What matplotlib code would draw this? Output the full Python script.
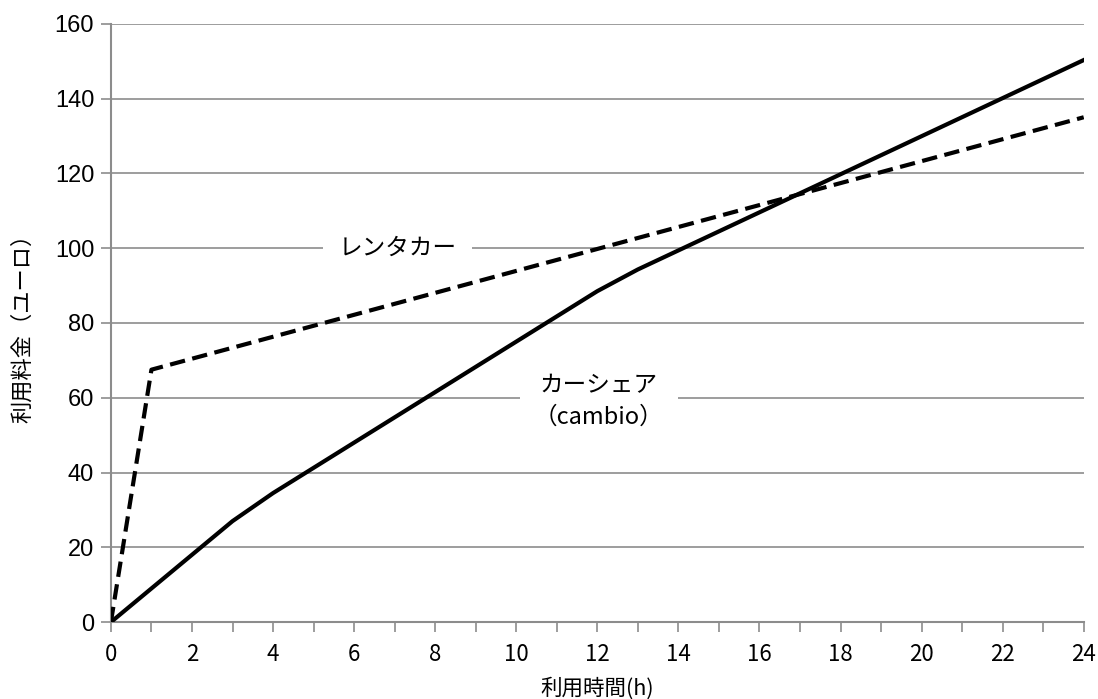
import matplotlib
matplotlib.use("Agg")
import matplotlib.pyplot as plt
from matplotlib.ticker import MultipleLocator

plt.rcParams['font.family'] = ['Noto Sans CJK JP', 'DejaVu Sans']

# Data
share_hours = [0, 3, 4, 12, 13, 24]
share_cost = [0, 27, 34.5, 88.5, 94.3, 150.3]
rental_hours = [0, 1, 24]
rental_cost = [0, 67.5, 135]

x_label = "利用時間(h)"
y_label = "利用料金（ユーロ）"
label_rental = "レンタカー"
label_share = "カーシェア\n（cambio）"

fig = plt.figure(figsize=(10.98, 6.99), dpi=100)
ax = fig.add_axes([0.101, 0.110, 0.886, 0.856])

grid_c = "#8c8c8c"
ax.plot(share_hours, share_cost, color="black", lw=3, solid_joinstyle="round", zorder=3)
ax.plot(rental_hours, rental_cost, color="black", lw=3, linestyle=(0, (3.7, 1.8)), zorder=3)

ax.set_xlim(0, 24)
ax.set_ylim(0, 160)
ax.xaxis.set_major_locator(MultipleLocator(2))
ax.xaxis.set_minor_locator(MultipleLocator(1))
ax.yaxis.set_major_locator(MultipleLocator(20))
ax.yaxis.grid(True, color=grid_c, lw=1.2)
ax.set_axisbelow(True)

for s in ["top", "right"]:
    ax.spines[s].set_visible(False)
for s in ["left", "bottom"]:
    ax.spines[s].set_color(grid_c)
    ax.spines[s].set_linewidth(1.5)
ax.tick_params(axis="both", which="both", color=grid_c, length=7, width=1.2, direction="out")
ax.tick_params(axis="x", which="major", pad=8, labelsize=16)
ax.tick_params(axis="y", which="major", pad=5, labelsize=17)
for lbl in ax.get_yticklabels():
    lbl.set_fontfamily(['Liberation Sans', 'DejaVu Sans'])

ax.set_xlabel(x_label, fontsize=15.5, labelpad=8)
ax.set_ylabel(y_label, fontsize=16, labelpad=15)

ax.text(7.08, 100, label_rental, fontsize=17, ha="center", va="center", zorder=2,
        bbox=dict(facecolor="white", edgecolor="none", pad=11))
ax.text(12.04, 59, label_share, fontsize=17, ha="center", va="center", zorder=2, linespacing=1.5,
        bbox=dict(facecolor="white", edgecolor="none", pad=10))

fig.savefig("out.png", dpi=100)
